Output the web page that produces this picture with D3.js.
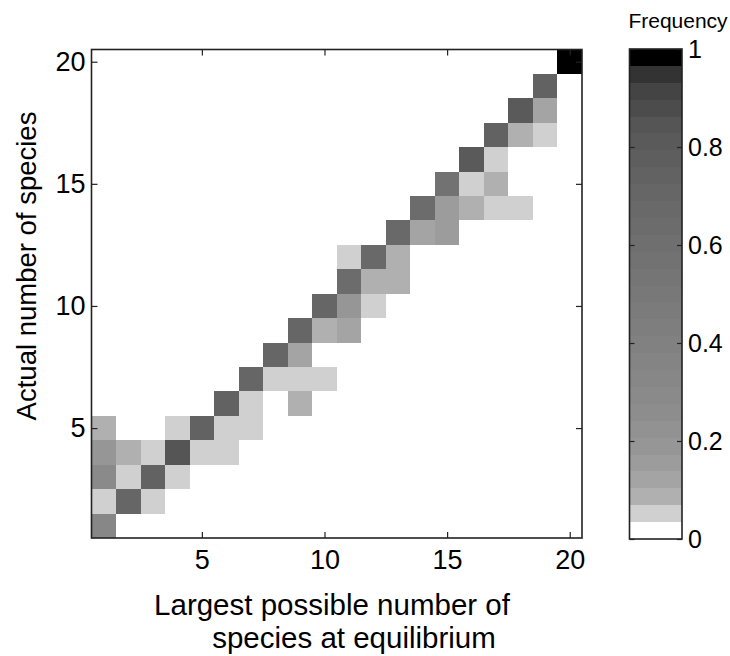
<!DOCTYPE html>
<html>
<head>
<meta charset="utf-8">
<script src="https://cdn.jsdelivr.net/npm/d3@7"></script>
<style>
  html, body { margin: 0; padding: 0; background: #fff; }
  svg { display: block; font-family: "Liberation Sans", Arial, Helvetica, sans-serif; }
</style>
</head>
<body>
<svg id="chart" width="730" height="656"></svg>
<script>
// ---- data ----
// largest possible number of species (x), actual number (y), frequency
const cellX = [1,1,1,1,1, 2,2,2, 3,3,3, 4,4,4, 5,5, 6,6,6, 7,7,7, 8,8, 9,9,9,9, 10,10,10,
               11,11,11,11, 12,12,12, 13,13,13, 14,14, 15,15,15, 16,16,16, 17,17,17,17, 18,18,18, 19,19,19, 20];
const cellY = [1,2,3,4,5, 2,3,4, 2,3,4, 3,4,5, 4,5, 4,5,6, 5,6,7, 7,8, 6,7,8,9, 7,9,10,
               9,10,11,12, 10,11,12, 11,12,13, 13,14, 13,14,15, 14,15,16, 14,15,16,17, 14,17,18, 17,18,19, 20];
const cellFreq = [0.34,0.05,0.30,0.19,0.08, 0.71,0.05,0.08, 0.05,0.75,0.05, 0.05,0.845,0.05, 0.05,0.74, 0.05,0.05,0.74, 0.05,0.05,0.71, 0.05,0.71, 0.08,0.05,0.12,0.71, 0.05,0.09,0.71,
                  0.12,0.19,0.64,0.05, 0.05,0.08,0.67, 0.08,0.08,0.67, 0.12,0.64, 0.14,0.14,0.57, 0.08,0.05,0.81, 0.05,0.08,0.05,0.74, 0.05,0.08,0.82, 0.05,0.12,0.74, 1.0];

const xTicks = [5, 10, 15, 20];
const yTicks = [5, 10, 15, 20];
const cbTicks = [0, 0.2, 0.4, 0.6, 0.8, 1];
// discrete gray colormap (bottom -> top)
const cmapGrays = [255, 208, 176, 164, 156, 150, 146, 141, 138, 135, 132, 129, 126, 123, 120, 117, 114, 111, 108, 105, 102, 98, 94, 90, 85, 76, 68, 51, 0];

// ---- layout ----
const svg = d3.select("#chart");
const plot = {left: 91.5, right: 582, top: 49.5, bottom: 538};
const cb = {left: 629.5, right: 682, top: 49, bottom: 539};
const axisColor = "#222";

const x = d3.scaleLinear().domain([0.5, 20.5]).range([plot.left, plot.right]);
const y = d3.scaleLinear().domain([0.5, 20.5]).range([plot.bottom, plot.top]);

const nBands = cmapGrays.length;
const thresholds = d3.range(1, nBands).map(k => k / nBands);
const color = d3.scaleThreshold().domain(thresholds)
  .range(cmapGrays.map(g => d3.rgb(g, g, g).formatHex()));

// background
svg.append("rect").attr("x", plot.left).attr("y", plot.top)
  .attr("width", plot.right - plot.left).attr("height", plot.bottom - plot.top)
  .attr("fill", "#fff");

// cells
const cells = cellX.map((cx, i) => ({x: cx, y: cellY[i], v: cellFreq[i]}));
svg.append("g").selectAll("rect").data(cells).join("rect")
  .attr("x", d => x(d.x - 0.5))
  .attr("y", d => y(d.y + 0.5))
  .attr("width", d => x(d.x + 0.5) - x(d.x - 0.5))
  .attr("height", d => y(d.y - 0.5) - y(d.y + 0.5))
  .attr("fill", d => color(d.v))
  .attr("shape-rendering", "crispEdges");

// axes (inward ticks, MATLAB style box)
function styleAxis(g, fs) {
  g.select(".domain").remove();
  g.selectAll(".tick line").attr("stroke", axisColor).attr("stroke-width", 1.2);
  g.selectAll(".tick text").attr("fill", "#000").attr("font-size", fs)
    .attr("font-family", "'Liberation Sans', Arial, sans-serif");
}
const tickLen = 6;
svg.append("g").attr("transform", `translate(0,${plot.bottom})`)
  .call(d3.axisBottom(x).tickValues(xTicks).tickSize(-tickLen).tickPadding(12))
  .call(g => styleAxis(g, 27));
svg.append("g").attr("transform", `translate(0,${plot.top})`)
  .call(d3.axisTop(x).tickValues(xTicks).tickSize(-tickLen).tickFormat(""))
  .call(g => styleAxis(g, 27));
svg.append("g").attr("transform", `translate(${plot.left},0)`)
  .call(d3.axisLeft(y).tickValues(yTicks).tickSize(-tickLen).tickPadding(6))
  .call(g => styleAxis(g, 27));
svg.append("g").attr("transform", `translate(${plot.right},0)`)
  .call(d3.axisRight(y).tickValues(yTicks).tickSize(-tickLen).tickFormat(""))
  .call(g => styleAxis(g, 27));

svg.append("rect").attr("x", plot.left).attr("y", plot.top)
  .attr("width", plot.right - plot.left).attr("height", plot.bottom - plot.top)
  .attr("fill", "none").attr("stroke", axisColor).attr("stroke-width", 1.6);

// axis titles
svg.append("text").attr("x", 332).attr("y", 615).attr("text-anchor", "middle")
  .attr("font-size", 29.5).text("Largest possible number of");
svg.append("text").attr("x", 354).attr("y", 648).attr("text-anchor", "middle")
  .attr("font-size", 29.5).text("species at equilibrium");
svg.append("text").attr("transform", `translate(36,266) rotate(-90)`).attr("text-anchor", "middle")
  .attr("font-size", 27.5).text("Actual number of species");

// colorbar
const cbScale = d3.scaleLinear().domain([0, 1]).range([cb.bottom, cb.top]);
const bands = d3.range(nBands).map(k => ({lo: k / nBands, hi: (k + 1) / nBands, c: color((k + 0.5) / nBands)}));
svg.append("g").selectAll("rect").data(bands).join("rect")
  .attr("x", cb.left).attr("width", cb.right - cb.left)
  .attr("y", d => cbScale(d.hi)).attr("height", d => cbScale(d.lo) - cbScale(d.hi))
  .attr("fill", d => d.c).attr("shape-rendering", "crispEdges");

svg.append("g").attr("transform", `translate(${cb.right},0)`)
  .call(d3.axisRight(cbScale).tickValues(cbTicks).tickSize(-5).tickPadding(6).tickFormat(d3.format("~g")))
  .call(g => styleAxis(g, 25));
svg.append("g").attr("transform", `translate(${cb.left},0)`)
  .call(d3.axisLeft(cbScale).tickValues(cbTicks).tickSize(-5).tickFormat(""))
  .call(g => styleAxis(g, 25));
svg.append("rect").attr("x", cb.left).attr("y", cb.top)
  .attr("width", cb.right - cb.left).attr("height", cb.bottom - cb.top)
  .attr("fill", "none").attr("stroke", axisColor).attr("stroke-width", 1.6);

svg.append("text").attr("x", 678).attr("y", 28).attr("text-anchor", "middle")
  .attr("font-size", 21).text("Frequency");
</script>
</body>
</html>
